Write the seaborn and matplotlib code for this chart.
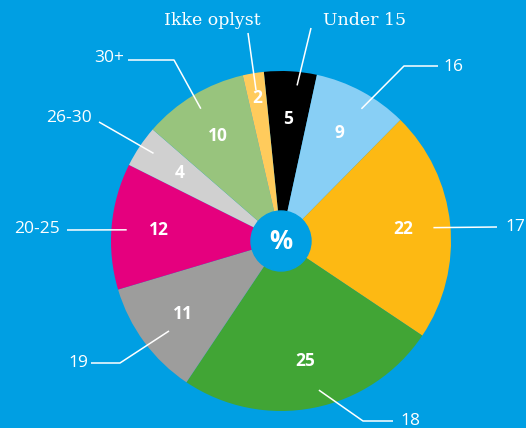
import numpy as np
import matplotlib
matplotlib.use("Agg")
import matplotlib.pyplot as plt
import seaborn as sns

# ---- data ----
categories = ["Under 15", "16", "17", "18", "19", "20-25", "26-30", "30+", "Ikke oplyst"]
values = [5, 9, 22, 25, 11, 12, 4, 10, 2]
colors_hex = ["#000000", "#88CFF5", "#FDB913", "#41A535", "#9D9D9C",
              "#E5007E", "#D0D0D0", "#98C47D", "#FFCB5C"]

BG = "#009FE3"
W, H = 526, 428

sns.set_theme(style="white")
plt.rcParams["font.family"] = ["Open Sans", "DejaVu Sans"]

fig = plt.figure(figsize=(W / 100, H / 100), dpi=100)
fig.patch.set_facecolor(BG)
ax = fig.add_axes([0, 0, 1, 1])
ax.set_facecolor(BG)


def P(x, y):
    return x, H - y


cx, cy = P(281, 241)
R = 170
palette = sns.color_palette(colors_hex)
wedges, _ = ax.pie(values, colors=palette, startangle=95.8, counterclock=False,
                   center=(cx, cy), radius=R, wedgeprops=dict(linewidth=0))
ax.set_xlim(0, W)
ax.set_ylim(0, H)
ax.set_aspect("equal")
ax.axis("off")

# center circle with %
ax.add_patch(plt.Circle((cx, cy), 30, color=BG, zorder=5))
ax.text(cx, cy, "%", color="white", fontsize=18.5, fontweight="bold",
        ha="center", va="center", zorder=6)

# value labels
val_r = {"Ikke oplyst": 0.85}
for w, cat, v in zip(wedges, categories, values):
    mid = np.deg2rad((w.theta1 + w.theta2) / 2)
    r = val_r.get(cat, 0.72) * R
    ax.text(cx + r * np.cos(mid), cy + r * np.sin(mid), str(v), color="white",
            fontsize=12.5, fontweight="bold", ha="center", va="center", zorder=4)

# leader lines (layout): angle fraction within wedge, radius fraction,
# following points, text pos, align, serif flag
layout = {
    "Under 15": (0.35, 0.92, [(311, 28)], (365, 20), "center", True),
    "16": (0.41, 0.91, [(404, 66), (438, 66)], (443, 67), "left", False),
    "17": (0.49, 0.90, [(497, 227)], (505, 227), "left", False),
    "18": (0.534, 0.905, [(363, 421), (393, 421)], (400, 421), "left", False),
    "19": (0.56, 0.845, [(120, 363), (91, 363)], (88, 363), "right", False),
    "20-25": (0.52, 0.91, [(67, 230)], (60, 229), "right", False),
    "26-30": (0.45, 0.91, [(99, 122)], (92, 118), "right", False),
    "30+": (0.506, 0.91, [(174, 60), (128, 60)], (124, 58), "right", False),
    "Ikke oplyst": (0.5, 0.9, [(248, 33)], (212, 20), "center", True),
}
for w, cat in zip(wedges, categories):
    f, rf, pts, tpos, ha, serif = layout[cat]
    ang = np.deg2rad(w.theta1 + f * (w.theta2 - w.theta1))
    r = rf * R
    xs = [cx + r * np.cos(ang)] + [P(*p)[0] for p in pts]
    ys = [cy + r * np.sin(ang)] + [P(*p)[1] for p in pts]
    ax.plot(xs, ys, color="white", lw=1.1, zorder=7, solid_capstyle="butt")
    fam = ["DejaVu Serif"] if serif else ["Open Sans", "DejaVu Sans"]
    ax.text(*P(*tpos), cat, color="white", fontsize=12.5,
            family=fam, ha=ha, va="center", zorder=8)

fig.savefig("out.png", dpi=100, facecolor=BG)
